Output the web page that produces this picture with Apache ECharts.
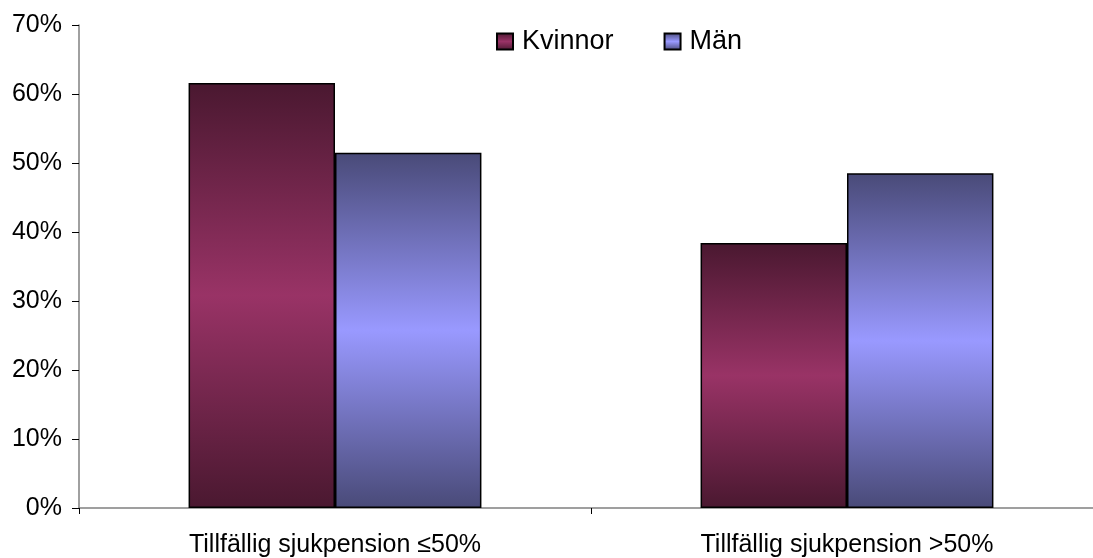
<!DOCTYPE html>
<html>
<head>
<meta charset="utf-8">
<script src="https://cdn.jsdelivr.net/npm/echarts@6/dist/echarts.min.js"></script>
<style>html,body{margin:0;padding:0;background:#fff;overflow:hidden;}#c{width:1103px;height:558px;}</style>
</head>
<body>
<div id="c"></div>
<script>
const categories = ['Tillfällig sjukpension ≤50%', 'Tillfällig sjukpension >50%'];
const seriesNames = ['Kvinnor', 'Män'];
const kvinnor = [61.6, 38.4];
const man = [51.5, 48.5];
const yTicks = [0, 10, 20, 30, 40, 50, 60, 70];

function grad(dark, light) {
  return new echarts.graphic.LinearGradient(0, 0, 0, 1, [
    {offset: 0, color: dark},
    {offset: 0.5, color: light},
    {offset: 1, color: dark}
  ]);
}

const chart = echarts.init(document.getElementById('c'), null, {renderer: 'canvas'});
chart.setOption({
  animation: false,
  textStyle: {fontFamily: 'Liberation Sans, Arial, sans-serif', color: '#000'},
  grid: {left: 79, top: 25, right: 0, bottom: 49, containLabel: false},
  legend: {
    data: seriesNames,
    icon: 'rect',
    left: 496, top: 28, padding: 0,
    itemWidth: 16, itemHeight: 16, itemGap: 50,
    textStyle: {fontSize: 27, color: '#000', fontFamily: 'Liberation Sans, Arial, sans-serif', padding: [0, 0, 0, 4]}
  },
  xAxis: {
    type: 'category',
    data: categories,
    axisLine: {lineStyle: {color: '#808080', width: 1.5}},
    axisTick: {show: true, length: 6, lineStyle: {color: '#000'}},
    axisLabel: {fontSize: 25, color: '#000', margin: 25}
  },
  yAxis: {
    type: 'value',
    min: yTicks[0], max: yTicks[yTicks.length - 1], interval: 10,
    axisLine: {show: true, lineStyle: {color: '#808080', width: 1.5}},
    axisTick: {show: true, length: 7, inside: false, lineStyle: {color: '#000'}},
    splitLine: {show: false},
    axisLabel: {fontSize: 25, color: '#000', margin: 17, formatter: '{value}%'}
  },
  series: [
    {
      name: seriesNames[0], type: 'bar', data: kvinnor,
      barGap: '0%', barCategoryGap: '42.8%',
      itemStyle: {color: grad('#4a1830', '#993366'), borderColor: '#000', borderWidth: 1.5}
    },
    {
      name: seriesNames[1], type: 'bar', data: man,
      itemStyle: {color: grad('#494a78', '#9999ff'), borderColor: '#000', borderWidth: 1.5}
    }
  ]
});
</script>
</body>
</html>
